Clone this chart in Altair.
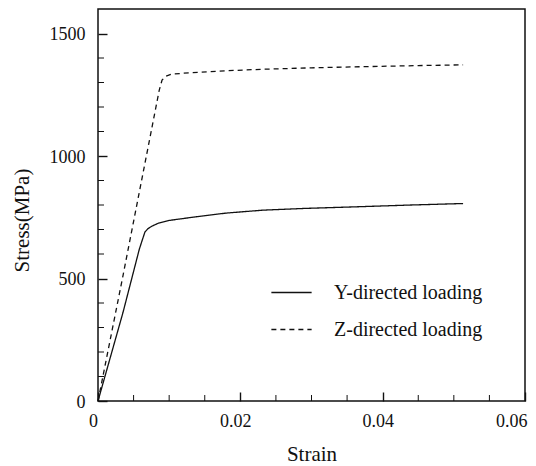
import altair as alt
import pandas as pd

# ---- data ----
series_names = ["Y-directed loading", "Z-directed loading"]

y_strain = [0.0, 0.0035, 0.0058, 0.0062, 0.0066, 0.0070, 0.0076, 0.0085, 0.0100,
            0.0138, 0.0180, 0.0232, 0.0290, 0.0367, 0.0440, 0.0513]
y_stress = [0, 360, 619, 655, 690, 703, 714, 726, 737,
            752, 767, 779, 786, 793, 800, 806]

z_strain = [0.0, 0.0035, 0.0086, 0.0090, 0.0095, 0.0103, 0.0130, 0.0180,
            0.0232, 0.0300, 0.0380, 0.0450, 0.0513]
z_stress = [0, 510, 1268, 1310, 1325, 1334, 1340, 1348,
            1354, 1360, 1365, 1369, 1372]

x_major = [0, 0.02, 0.04, 0.06]
x_minor = [0.005, 0.01, 0.015, 0.025, 0.03, 0.035, 0.045, 0.05, 0.055]
y_major = [0, 500, 1000, 1500]
y_minor = [100, 200, 300, 400, 600, 700, 800, 900, 1100, 1200, 1300, 1400]

df = pd.concat([
    pd.DataFrame({"strain": y_strain, "stress": y_stress, "series": series_names[0]}),
    pd.DataFrame({"strain": z_strain, "stress": z_stress, "series": series_names[1]}),
], ignore_index=True)

W, H = 427, 392
FONT = "Liberation Serif"
INK = "#111111"

xs = alt.Scale(domain=[0, 0.06], nice=False, zero=False)
ys = alt.Scale(domain=[0, 1600], nice=False)

x_axis = alt.Axis(values=x_major, format="~g", title="Strain",
                  offset=-9, tickSize=9, tickWidth=1.4, tickColor=INK,
                  domain=False, grid=False,
                  labelFont=FONT, labelFontSize=18, labelColor=INK,
                  labelPadding=11,
                  labelAlign={"condition": {"test": "datum.value >= 0.06", "value": "right"},
                              "value": "center"},
                  labelOffset={"condition": {"test": "datum.value >= 0.06", "value": 2},
                               "value": -5},
                  labelFlush=False, labelOverlap=False,
                  titleFont=FONT, titleFontSize=21, titleFontWeight="normal",
                  titleColor=INK, titleBaseline="alphabetic", titleY=68)
y_axis = alt.Axis(values=y_major, format="d", title="Stress(MPa)",
                  offset=-9, tickSize=9, tickWidth=1.4, tickColor=INK,
                  domain=False, grid=False,
                  labelFont=FONT, labelFontSize=18, labelColor=INK,
                  labelPadding=13, labelOffset=1, labelFlush=False,
                  labelOverlap=False,
                  titleFont=FONT, titleFontSize=21, titleFontWeight="normal",
                  titleColor=INK, titleBaseline="alphabetic",
                  titleAngle=270, titleX=-79, titleY=211)

lines = alt.Chart(df).mark_line(strokeWidth=1.3, color=INK).encode(
    x=alt.X("strain:Q", scale=xs, axis=x_axis),
    y=alt.Y("stress:Q", scale=ys, axis=y_axis),
    strokeDash=alt.StrokeDash(
        "series:N",
        scale=alt.Scale(domain=series_names, range=[[1, 0], [5, 4]]),
        legend=alt.Legend(title=None, orient="none", legendX=175, legendY=265,
                          symbolType="M-1.15,0H1.15", symbolSize=1225,
                          symbolStrokeWidth=1.3, symbolStrokeColor=INK,
                          labelFont=FONT, labelFontSize=20, labelColor=INK,
                          labelOffset=24, rowPadding=8, padding=0),
    ),
    order=alt.Order("strain:Q"),
)

xminor = alt.Chart(pd.DataFrame({"strain": x_minor})).mark_rule(color=INK, strokeWidth=1).encode(
    x=alt.X("strain:Q", scale=xs, axis=x_axis),
    y=alt.value(H),
    y2=alt.value(H - 6),
)

yminor = alt.Chart(pd.DataFrame({"stress": y_minor})).mark_rule(color=INK, strokeWidth=1).encode(
    y=alt.Y("stress:Q", scale=ys, axis=y_axis),
    x=alt.value(0),
    x2=alt.value(6),
)

chart = alt.layer(lines, xminor, yminor).properties(
    width=W, height=H,
    padding={"left": 90, "top": 1, "right": 3, "bottom": 64},
    autosize=alt.AutoSizeParams(type="none"),
    background="white",
).configure_view(
    stroke=INK, strokeWidth=1.5
)

chart.save("out.html", embed_options={"renderer": "svg", "actions": False})
